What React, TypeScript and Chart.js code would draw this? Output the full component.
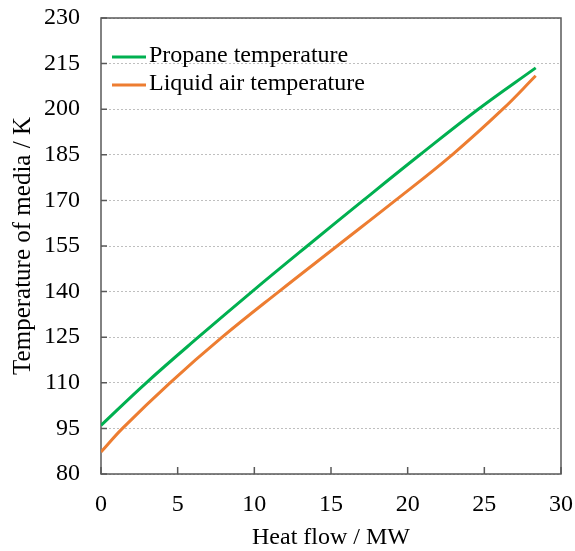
import React, { useEffect, useRef } from "react";
import { Chart, registerables } from "chart.js";

Chart.register(...registerables);

const propaneHeatFlow = [0, 2.95, 6.35, 9.85, 13.45, 17.1, 20.8, 24.6, 28.35];
const propaneTemp = [96, 110, 125, 140, 155, 170, 185, 200, 213.6];
const airHeatFlow = [0, 1.4, 4.5, 7.9, 11.6, 15.4, 19.2, 22.9, 26.2, 28.35];
const airTemp = [87.2, 95, 110, 125, 140, 155, 170, 185, 200, 211];
const seriesLabels = ["Propane temperature", "Liquid air temperature"];
const seriesColors = ["#00b050", "#ed7d31"];

const FONT = "'Liberation Serif', 'Times New Roman', serif";
const FS = 24;

const framePlugin = {
  id: "frameTicks",
  beforeDatasetsDraw(chart: any) {
    const { ctx, chartArea: a, scales } = chart;
    ctx.save();
    ctx.strokeStyle = "#595959";
    ctx.lineWidth = 1.5;
    ctx.strokeRect(a.left, a.top, a.right - a.left, a.bottom - a.top);
    ctx.beginPath();
    const ys = scales.y;
    ys.ticks.forEach((t: any) => {
      const p = ys.getPixelForValue(t.value);
      ctx.moveTo(a.left, p);
      ctx.lineTo(a.left + 6, p);
    });
    const xs = scales.x;
    xs.ticks.forEach((t: any) => {
      const p = xs.getPixelForValue(t.value);
      ctx.moveTo(p, a.bottom);
      ctx.lineTo(p, a.bottom - 7);
    });
    ctx.stroke();
    ctx.restore();
  },
  afterDraw(chart: any) {
    const { ctx, chartArea: a } = chart;
    ctx.save();
    chart.data.datasets.forEach((ds: any, i: number) => {
      const y = a.top + 39 + i * 28;
      ctx.strokeStyle = ds.borderColor;
      ctx.lineWidth = 3;
      ctx.beginPath();
      ctx.moveTo(a.left + 11, y);
      ctx.lineTo(a.left + 45, y);
      ctx.stroke();
      ctx.fillStyle = "#000";
      ctx.font = `${FS}px ${FONT}`;
      ctx.textBaseline = "middle";
      ctx.textAlign = "left";
      ctx.fillText(ds.label, a.left + 48, y - 1);
    });
    ctx.restore();
  },
};

export default function App() {
  const ref = useRef<HTMLCanvasElement>(null);
  useEffect(() => {
    const chart = new Chart(ref.current!, {
      type: "scatter",
      data: {
        datasets: [
          {
            label: seriesLabels[0],
            data: propaneHeatFlow.map((x, i) => ({ x, y: propaneTemp[i] })),
            borderColor: seriesColors[0],
            backgroundColor: seriesColors[0],
            showLine: true,
            borderWidth: 3,
            pointRadius: 0,
            tension: 0.4,
          },
          {
            label: seriesLabels[1],
            data: airHeatFlow.map((x, i) => ({ x, y: airTemp[i] })),
            borderColor: seriesColors[1],
            backgroundColor: seriesColors[1],
            showLine: true,
            borderWidth: 3,
            pointRadius: 0,
            tension: 0.4,
          },
        ],
      },
      options: {
        responsive: false,
        animation: false,
        devicePixelRatio: 1,
        layout: { padding: { top: 18, right: 14, left: 0, bottom: 0 } },
        plugins: { legend: { display: false }, tooltip: { enabled: false } },
        scales: {
          x: {
            type: "linear",
            min: 0,
            max: 30,
            ticks: { stepSize: 5, color: "#000", font: { family: FONT, size: FS }, padding: 16 },
            grid: { display: false, drawTicks: false },
            border: { display: false },
            title: {
              display: true,
              text: "Heat flow / MW",
              color: "#000",
              font: { family: FONT, size: FS },
              padding: { top: 0, bottom: -1 },
            },
            afterFit: (s: any) => {
              s.height = 77;
              s.paddingLeft = 0;
              s.paddingRight = 0;
            },
          },
          y: {
            type: "linear",
            min: 80,
            max: 230,
            ticks: { stepSize: 15, color: "#000", font: { family: FONT, size: FS }, padding: 21 },
            grid: { display: true, drawTicks: false, color: "#bfbfbf", lineWidth: 1 },
            border: { display: false, dash: [2, 2] },
            title: {
              display: true,
              text: "Temperature of media / K",
              color: "#000",
              font: { family: FONT, size: 25 },
              padding: { top: 8, bottom: 0 },
            },
            afterFit: (s: any) => {
              s.width = 101;
              s.paddingTop = 0;
              s.paddingBottom = 0;
            },
          },
        },
      },
      plugins: [framePlugin],
    } as any);
    return () => chart.destroy();
  }, []);
  return (
    <div style={{ position: "fixed", left: 0, top: 0, width: 575, height: 551, background: "#fff" }}>
      <canvas ref={ref} width={575} height={551} style={{ width: 575, height: 551 }} />
    </div>
  );
}
